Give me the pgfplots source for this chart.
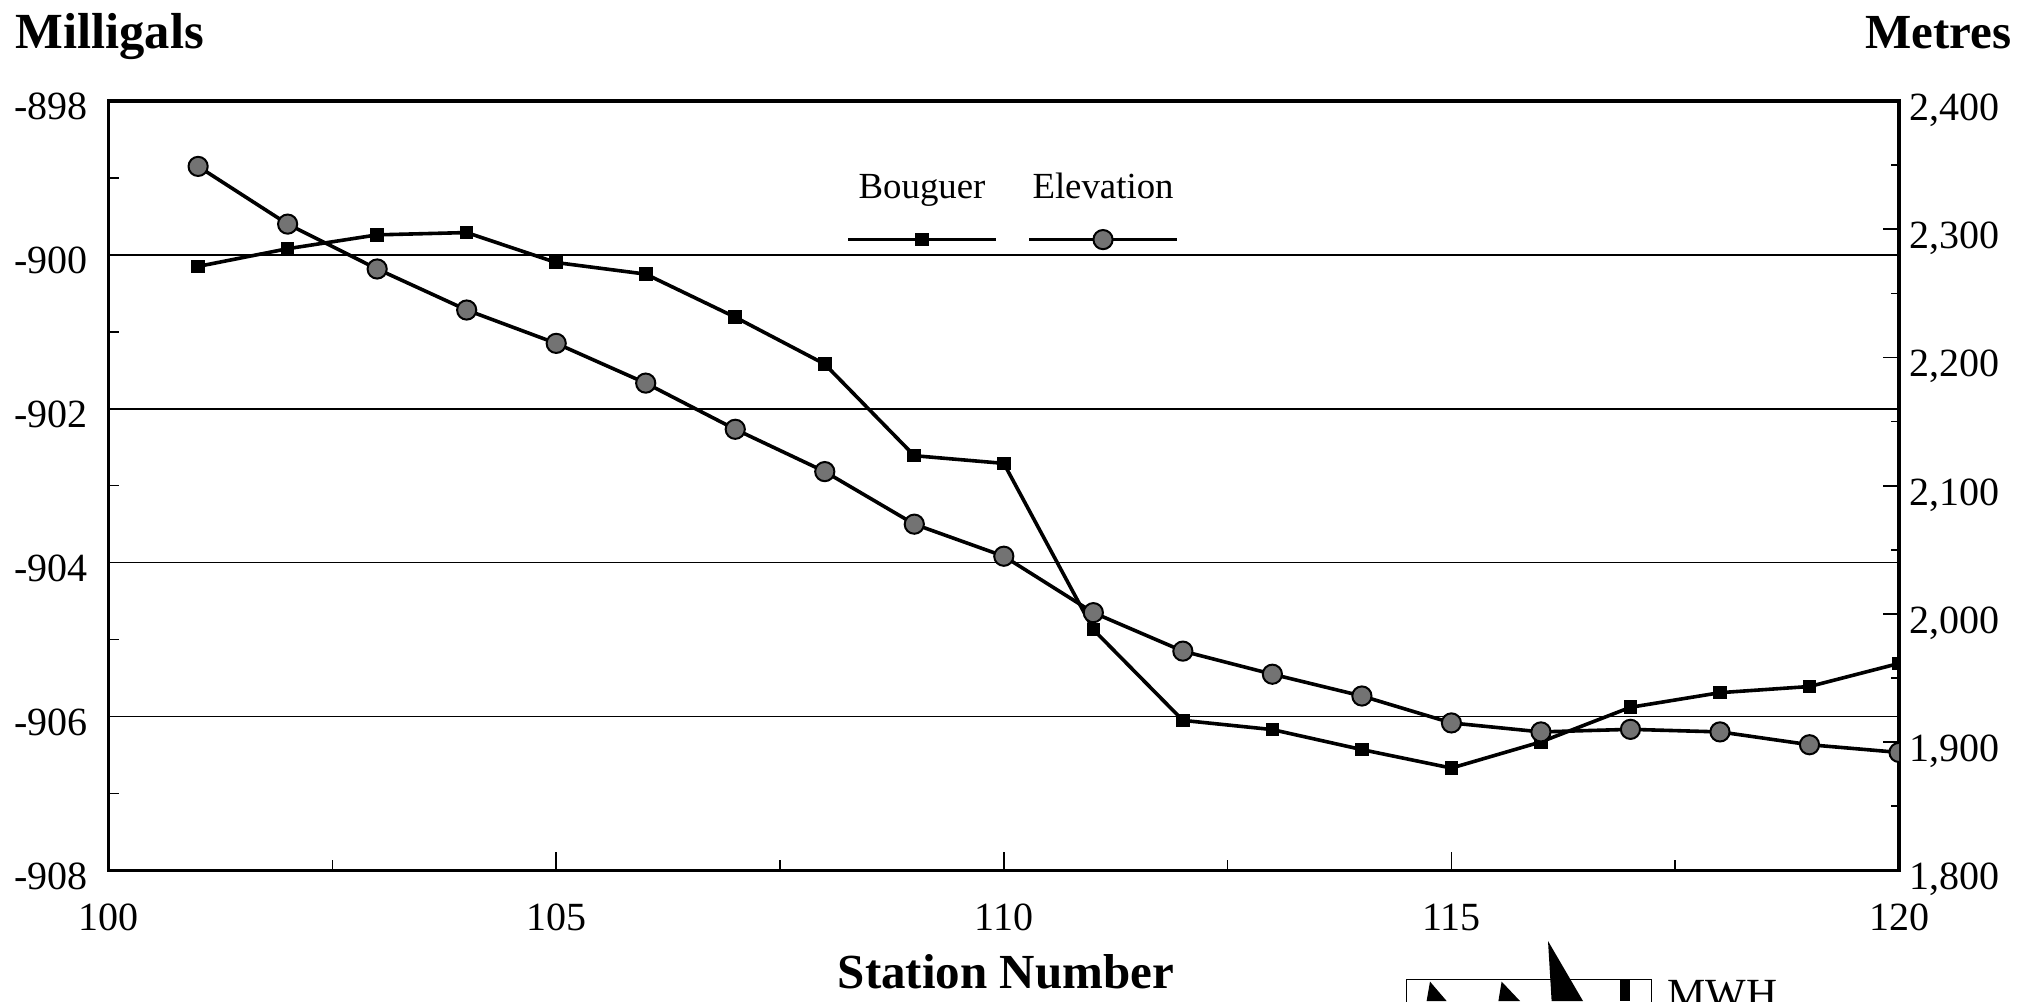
\documentclass[border=0pt]{standalone}
\usepackage{pgfplots}
\pgfplotsset{compat=1.18}
\usepackage{fontspec}
\setmainfont{Liberation Serif}

\pgfplotsset{
  common/.style={
    scale only axis, width=895.2pt, height=384.7pt,
    at={(0pt,0pt)}, anchor=south west,
    xmin=100, xmax=120,
    clip marker paths=true,
    axis line style={line width=1.7pt},
    tick style={black, line width=0.8pt},
    /pgf/number format/assume math mode=true,
    ticklabel style={font=\fontsize{20}{24}\selectfont},
  },
  bstyle/.style={black, line width=1.8pt, mark=square*, mark size=2.5pt,
    mark options={solid, fill=black}},
  estyle/.style={black, line width=1.8pt, mark=*, mark size=4.8pt,
    mark options={solid, fill=black!55, draw=black, line width=1pt}},
}

\begin{document}
\begin{tikzpicture}
\useasboundingbox (-54.3pt,-65.3pt) rectangle (959.7pt,435.2pt);
\clip (-54.3pt,-65.3pt) rectangle (959.7pt,435.2pt);

% Bouguer anomaly, left axis
\begin{axis}[common,
  ymin=-908, ymax=-898,
  ytick={-908,-906,...,-898}, minor y tick num=1,
  xtick={100,105,...,120}, minor x tick num=1,
  xtick pos=left, ytick pos=left,
  major tick length=9pt, minor tick length=5pt,
  ymajorgrids, grid style={black, line width=0.8pt},
  xticklabel style={anchor=base, inner sep=0pt, yshift=-30pt},
  yticklabel style={anchor=base east, inner sep=0pt, xshift=-10.3pt, yshift=-9.3pt},
]
\addplot[bstyle] coordinates {
  (101,-900.15) (102,-899.92) (103,-899.74) (104,-899.71) (105,-900.10)
  (106,-900.25) (107,-900.81) (108,-901.42) (109,-902.61) (110,-902.71)
  (111,-904.87) (112,-906.05) (113,-906.17) (114,-906.43) (115,-906.67)
  (116,-906.33) (117,-905.88) (118,-905.69) (119,-905.61) (120,-905.31)
};
\end{axis}

% Station elevation, right axis
\begin{axis}[common,
  axis x line=none, axis y line*=right,
  ymin=1800, ymax=2400,
  ytick={1800,1900,...,2400}, minor y tick num=1,
  ytick pos=right,
  major tick length=8pt, minor tick length=4pt,
  /pgf/number format/1000 sep={,},
  yticklabel style={anchor=base west, inner sep=0pt, xshift=5pt, yshift=-9.7pt},
  legend columns=2,
  legend style={draw=none, fill=none, inner sep=0pt, outer sep=0pt,
    at={(axis description cs:0.413,0.906)}, anchor=north west,
    column sep=0pt,
    /tikz/every even column/.append style={column sep=16.5pt},
    nodes={inner sep=0pt, text width=74pt, align=center,
      font=\fontsize{18.4}{22}\selectfont}},
  legend image code/.code={
    \draw[overlay,#1,mark=none] (0pt,-26pt) -- (74pt,-26pt);
    \draw[overlay,#1] plot coordinates {(37pt,-26pt)};
  },
]
\addlegendimage{bstyle}
\addlegendentry{Bouguer}
\addplot[estyle] coordinates {
  (101,2349) (102,2304) (103,2269) (104,2237) (105,2211)
  (106,2180) (107,2144) (108,2111) (109,2070) (110,2045)
  (111,2001) (112,1971) (113,1953) (114,1936) (115,1915)
  (116,1908) (117,1910) (118,1908) (119,1898) (120,1892)
};
\addlegendentry{Elevation}
\end{axis}

% titles
\node[anchor=base west, inner sep=0pt, font=\bfseries\fontsize{25.3}{30}\selectfont]
  at (-46.8pt,410.7pt) {Milligals};
\node[anchor=base east, inner sep=0pt, font=\bfseries\fontsize{24.5}{30}\selectfont]
  at (951.7pt,410.7pt) {Metres};
\node[anchor=base, inner sep=0pt, font=\bfseries\fontsize{24.5}{30}\selectfont]
  at (448.7pt,-58.8pt) {Station Number};

% company logo
\draw[line width=0.75pt] (649pt,-70pt) -- (649pt,-54.45pt) -- (771.5pt,-54.45pt) -- (771.5pt,-70pt);
\fill (660.7pt,-55.6pt) -- (669pt,-65.3pt) -- (659pt,-65.3pt) -- cycle;
\fill (696.5pt,-55.6pt) -- (705.7pt,-65.3pt) -- (694.9pt,-65.3pt) -- cycle;
\fill (719.7pt,-35.3pt) -- (737.2pt,-65.3pt) -- (721.5pt,-65.3pt) -- cycle;
\fill (755.7pt,-54.6pt) rectangle (760.7pt,-65.3pt);
\node[anchor=base west, inner sep=0pt, font=\fontsize{21.5}{25}\selectfont]
  at (779.2pt,-69pt) {MWH};
\end{tikzpicture}
\end{document}
